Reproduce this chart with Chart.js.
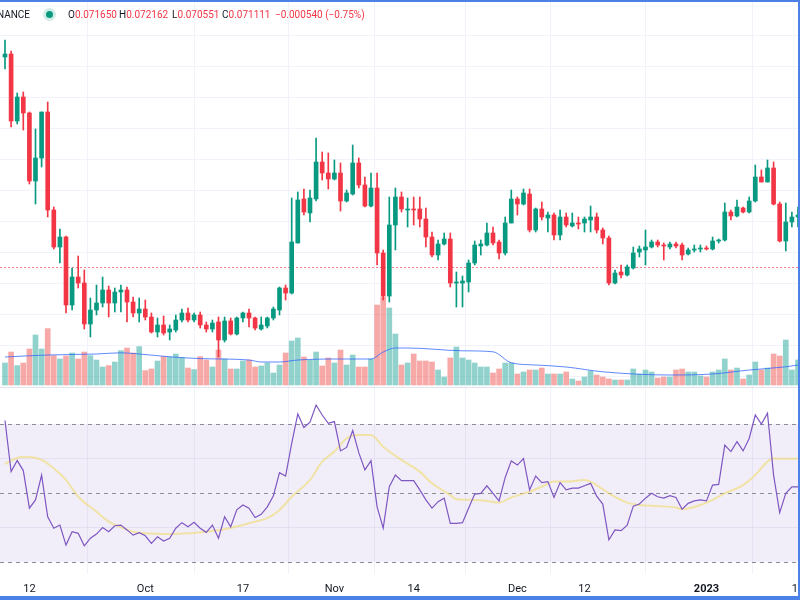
<!DOCTYPE html>
<html>
<head>
<meta charset="utf-8">
<script src="https://cdn.jsdelivr.net/npm/chart.js@4.4.0/dist/chart.umd.min.js"></script>
<style>
  body { margin: 0; background: #fff; }
  #wrap { position: relative; width: 800px; height: 600px; overflow: hidden; font-family: Roboto, "Noto Sans", sans-serif; }
  #hdr { position: absolute; top: 0; left: 0; width: 800px; height: 28px; font-size: 10px; color: #131722; }
  #hdr span { position: absolute; top: 8px; white-space: nowrap; line-height: 14px; }
  #hdr .v { color: #f23645; }
  #dot { position: absolute; left: 46px; top: 11px; width: 7px; height: 7px; border-radius: 50%; background: #089981; box-shadow: 0 0 0 3px rgba(8,153,129,0.18); }
</style>
</head>
<body>
<div id="wrap">
  <canvas id="chart" width="800" height="600"></canvas>
  <div id="hdr"></div>
</div>
<script>
// one candle per day, Sep 8 2022 -> Jan 16 2023 (index 0..130)
const opens = [
  0.08371, 0.08389, 0.07987, 0.08131, 0.08035, 0.07627, 0.07765, 0.08041, 0.07453, 0.07231,
  0.07291, 0.06883, 0.07051, 0.07015, 0.06769, 0.06853, 0.06895, 0.06973, 0.06895, 0.06961,
  0.06973, 0.06901, 0.06835, 0.06859, 0.06811, 0.06721, 0.06763, 0.06721, 0.06733, 0.06793,
  0.06835, 0.06793, 0.06823, 0.06763, 0.06739, 0.06781, 0.06673, 0.06787, 0.06709, 0.06805,
  0.06835, 0.06805, 0.06739, 0.06757, 0.06805, 0.06853, 0.06985, 0.06955, 0.07255, 0.07519,
  0.07435, 0.07519, 0.07741, 0.07675, 0.07639, 0.07675, 0.07507, 0.07549, 0.07735, 0.07603,
  0.07477, 0.07585, 0.07195, 0.06937, 0.07363, 0.07531, 0.07453, 0.07459, 0.07459, 0.07399,
  0.07291, 0.07183, 0.07249, 0.07279, 0.07015, 0.07015, 0.07021, 0.07135, 0.07237, 0.07243,
  0.07315, 0.07261, 0.07195, 0.07375, 0.07519, 0.07489, 0.07549, 0.07333, 0.07459, 0.07405,
  0.07423, 0.07303, 0.07411, 0.07357, 0.07375, 0.07375, 0.07393, 0.07411, 0.07333, 0.07285,
  0.07015, 0.07081, 0.07063, 0.07105, 0.07201, 0.07213, 0.07231, 0.07261, 0.07243, 0.07231,
  0.07249, 0.07243, 0.07189, 0.07213, 0.07219, 0.07225, 0.07219, 0.07267, 0.07273, 0.07441,
  0.07417, 0.07465, 0.07441, 0.07507, 0.07651, 0.07621, 0.07705, 0.07489, 0.07267, 0.07381,
  0.07411
];
const highs = [
  0.08473, 0.08407, 0.08155, 0.08161, 0.08041, 0.07939, 0.08041, 0.08101, 0.07471, 0.07339,
  0.07297, 0.07105, 0.07177, 0.07093, 0.06925, 0.07003, 0.07051, 0.06997, 0.06985, 0.07003,
  0.06991, 0.06931, 0.06925, 0.06913, 0.06835, 0.06805, 0.06817, 0.06763, 0.06823, 0.06859,
  0.06865, 0.06835, 0.06841, 0.06781, 0.06793, 0.06811, 0.06811, 0.06805, 0.06811, 0.06841,
  0.06859, 0.06811, 0.06811, 0.06811, 0.06871, 0.06991, 0.07003, 0.07525, 0.07561, 0.07579,
  0.07573, 0.07885, 0.07801, 0.07795, 0.07753, 0.07735, 0.07573, 0.07843, 0.07765, 0.07651,
  0.07675, 0.07675, 0.07213, 0.07531, 0.07585, 0.07561, 0.07525, 0.07531, 0.07531, 0.07465,
  0.07321, 0.07273, 0.07315, 0.07315, 0.07081, 0.07057, 0.07153, 0.07267, 0.07273, 0.07375,
  0.07351, 0.07273, 0.07411, 0.07573, 0.07531, 0.07579, 0.07579, 0.07465, 0.07501, 0.07441,
  0.07435, 0.07453, 0.07435, 0.07435, 0.07411, 0.07411, 0.07477, 0.07435, 0.07345, 0.07297,
  0.07093, 0.07123, 0.07123, 0.07231, 0.07237, 0.07333, 0.07273, 0.07273, 0.07255, 0.07261,
  0.07261, 0.07255, 0.07225, 0.07243, 0.07243, 0.07237, 0.07291, 0.07279, 0.07495, 0.07453,
  0.07513, 0.07471, 0.07531, 0.07723, 0.07693, 0.07753, 0.07741, 0.07501, 0.07495, 0.07441,
  0.07471
];
const lows = [
  0.08299, 0.07951, 0.07969, 0.07933, 0.07609, 0.07489, 0.07711, 0.07411, 0.07219, 0.07135,
  0.06835, 0.06853, 0.06985, 0.06739, 0.06691, 0.06823, 0.06871, 0.06811, 0.06841, 0.06841,
  0.06781, 0.06811, 0.06781, 0.06793, 0.06715, 0.06691, 0.06703, 0.06673, 0.06721, 0.06781,
  0.06781, 0.06781, 0.06745, 0.06721, 0.06721, 0.06571, 0.06661, 0.06703, 0.06703, 0.06781,
  0.06751, 0.06733, 0.06733, 0.06745, 0.06793, 0.06823, 0.06913, 0.06949, 0.07255, 0.07423,
  0.07381, 0.07507, 0.07633, 0.07579, 0.07633, 0.07447, 0.07501, 0.07543, 0.07585, 0.07471,
  0.07471, 0.07123, 0.06913, 0.06901, 0.07213, 0.07441, 0.07351, 0.07363, 0.07351, 0.07231,
  0.07171, 0.07153, 0.07243, 0.06991, 0.06871, 0.06871, 0.06961, 0.07123, 0.07183, 0.07237,
  0.07243, 0.07159, 0.07183, 0.07375, 0.07423, 0.07483, 0.07321, 0.07321, 0.07393, 0.07321,
  0.07273, 0.07273, 0.07351, 0.07351, 0.07339, 0.07321, 0.07321, 0.07315, 0.07249, 0.07003,
  0.07009, 0.07045, 0.07057, 0.07099, 0.07171, 0.07123, 0.07225, 0.07231, 0.07153, 0.07219,
  0.07225, 0.07153, 0.07183, 0.07201, 0.07201, 0.07213, 0.07213, 0.07255, 0.07267, 0.07393,
  0.07411, 0.07435, 0.07435, 0.07501, 0.07621, 0.07621, 0.07483, 0.07261, 0.07207, 0.07351,
  0.07351
];
const closes = [
  0.08389, 0.07987, 0.08131, 0.08035, 0.07627, 0.07765, 0.08041, 0.07453, 0.07231, 0.07291,
  0.06883, 0.07051, 0.07015, 0.06769, 0.06853, 0.06895, 0.06973, 0.06895, 0.06961, 0.06973,
  0.06901, 0.06835, 0.06859, 0.06811, 0.06721, 0.06763, 0.06715, 0.06739, 0.06793, 0.06835,
  0.06793, 0.06823, 0.06763, 0.06739, 0.06775, 0.06673, 0.06787, 0.06709, 0.06805, 0.06835,
  0.06805, 0.06745, 0.06763, 0.06805, 0.06859, 0.06985, 0.06955, 0.07261, 0.07513, 0.07441,
  0.07525, 0.07741, 0.07675, 0.07639, 0.07675, 0.07507, 0.07555, 0.07735, 0.07603, 0.07477,
  0.07585, 0.07195, 0.06937, 0.07363, 0.07531, 0.07459, 0.07459, 0.07453, 0.07399, 0.07291,
  0.07183, 0.07249, 0.07279, 0.07015, 0.07021, 0.07027, 0.07135, 0.07243, 0.07249, 0.07315,
  0.07255, 0.07195, 0.07375, 0.07519, 0.07489, 0.07555, 0.07333, 0.07459, 0.07411, 0.07423,
  0.07303, 0.07411, 0.07363, 0.07375, 0.07369, 0.07399, 0.07411, 0.07333, 0.07285, 0.07015,
  0.07075, 0.07063, 0.07111, 0.07195, 0.07219, 0.07231, 0.07261, 0.07243, 0.07237, 0.07249,
  0.07237, 0.07183, 0.07213, 0.07219, 0.07225, 0.07219, 0.07267, 0.07273, 0.07441, 0.07417,
  0.07471, 0.07441, 0.07507, 0.07651, 0.07621, 0.07705, 0.07489, 0.07267, 0.07381, 0.07411,
  0.07423
];
// volume in thousands
const volumes = [
  110, 165, 97, 110, 180, 250, 180, 282, 147, 130,
  145, 160, 130, 165, 147, 125, 90, 97, 115, 172,
  185, 160, 192, 72, 80, 120, 142, 140, 155, 137,
  85, 77, 142, 125, 90, 175, 130, 80, 80, 120,
  125, 90, 95, 110, 60, 100, 160, 220, 235, 140,
  125, 165, 95, 135, 110, 175, 100, 150, 90, 90,
  130, 400, 440, 385, 255, 100, 110, 155, 120, 120,
  115, 75, 40, 135, 190, 135, 125, 110, 90, 90,
  60, 80, 110, 110, 55, 65, 75, 75, 85, 55,
  55, 55, 65, 30, 20, 40, 70, 50, 40, 30,
  25, 25, 25, 80, 55, 75, 65, 35, 40, 40,
  75, 80, 65, 65, 45, 40, 65, 75, 130, 75,
  85, 30, 50, 115, 75, 85, 155, 145, 225, 75,
  125
];
const volMaDays = [0, 7, 15, 19, 22, 27, 32, 40, 42, 45, 48, 55, 60, 62, 64, 66, 75, 80, 83, 87, 92, 98, 109, 116, 122, 128, 130];
const volMa = [140, 150, 155, 161, 155, 141, 132, 125, 115, 115, 125, 130, 130, 165, 185, 185, 171, 166, 111, 100, 90, 66, 50, 55, 75, 91, 100];

const rsiValues = [
  71.0, 56.2, 59.4, 56.5, 45.6, 48.0, 55.2, 43.1, 39.8, 40.7,
  34.9, 38.8, 38.3, 34.7, 36.9, 38.1, 40.0, 38.8, 40.5, 40.7,
  39.3, 37.8, 38.5, 37.6, 35.4, 37.3, 36.1, 36.9, 39.8, 41.4,
  40.2, 41.5, 39.8, 38.6, 40.7, 36.9, 43.1, 40.2, 45.1, 46.5,
  45.6, 42.9, 43.8, 46.0, 49.2, 55.9, 54.9, 64.4, 72.9, 69.0,
  70.5, 75.5, 72.6, 70.2, 70.7, 62.2, 63.2, 68.1, 61.7, 56.7,
  59.4, 46.0, 39.8, 51.8, 55.2, 53.6, 53.6, 53.6, 50.9, 48.0,
  45.6, 47.5, 48.5, 41.2, 41.2, 41.4, 45.6, 49.7, 49.9, 52.1,
  49.9, 47.7, 54.5, 59.3, 58.1, 60.0, 50.9, 54.9, 53.0, 53.3,
  48.7, 53.0, 50.9, 51.4, 51.4, 52.1, 52.8, 49.1, 46.8, 36.4,
  39.3, 39.1, 40.7, 46.2, 46.8, 48.5, 49.9, 48.9, 48.5, 49.2,
  48.7, 45.3, 47.0, 47.7, 48.0, 47.7, 52.3, 52.5, 63.9, 62.0,
  64.9, 62.2, 65.8, 72.6, 70.0, 73.1, 55.2, 44.3, 49.9, 51.8,
  51.8
];
const rsiMaDays = [0, 1, 3, 6, 8, 10, 12, 15, 17, 19, 21, 23, 27, 30, 33, 36, 39, 41, 43, 45, 47, 50, 52, 54, 56, 58, 60, 62, 65,
  68, 70, 73, 74, 77, 79, 81, 83, 86, 88, 90, 92, 95, 97, 99, 102, 104, 107, 110, 111, 114, 116, 118, 121, 123, 125, 126, 128, 130];
const rsiMa = [58.4, 59.4, 60.5, 59.6, 57.1, 53.8, 48.9, 44.6, 41.7, 40.1, 38.8, 38.3, 38.1, 38.3, 38.8, 39.5, 40.7, 41.7, 42.7, 45.1, 48.9, 53.8, 59.1, 62.0, 65.8, 66.8, 66.8, 63.4, 59.6,
  56.2, 52.8, 49.4, 48.2, 48.0, 47.7, 47.2, 48.7, 50.4, 51.8, 53.3, 53.3, 53.8, 52.3, 49.9, 47.2, 46.5, 46.2, 45.8, 45.3, 46.5, 48.0, 49.9, 52.3, 55.2, 59.1, 60.0, 59.9, 60.0];

const tickDays = [4, 23, 39, 54, 67, 84, 95, 115, 130];
const tickLabels = ['12', 'Oct', '17', 'Nov', '14', 'Dec', '12', '2023', '16'];

const legendKeys = ['O', 'H', 'L', 'C'];
const legendValues = ['0.071650', '0.072162', '0.070551', '0.071111'];
const legendChange = '\u22120.000540 (\u22120.75%)';
const lastClose = 0.071111;

/*********************************************/

const UP = '#089981', DOWN = '#f23645';
const UP_VOL = 'rgba(38,166,154,0.5)', DOWN_VOL = 'rgba(239,83,80,0.5)';
const FONT = 'Roboto, "Noto Sans", sans-serif';

const days = opens.map((_, i) => i);
const isUp = days.map(i => closes[i] >= opens[i]);

function buildHeader() {
  const hdr = document.getElementById('hdr');
  let html = '<span style="right:770px">ETHBTC \u00b7 1D \u00b7 BINANCE</span><div id="dot"></div>';
  const lefts = [68, 119, 172, 222];
  for (let i = 0; i < legendKeys.length; i++) {
    html += `<span style="left:${lefts[i]}px">${legendKeys[i]}<span class="v" style="position:static">${legendValues[i]}</span></span>`;
  }
  html += `<span class="v" style="left:275px">${legendChange}</span>`;
  hdr.innerHTML = html;
}

const paneDecor = {
  id: 'paneDecor',
  beforeDatasetsDraw(chart) {
    const { ctx, chartArea: a, scales } = chart;
    const r = scales.yRsi;
    ctx.save();
    ctx.lineWidth = 1;

    // rsi pane grid
    ctx.strokeStyle = '#eef0f6';
    [40, 60].forEach(v => {
      const y = Math.round(r.getPixelForValue(v)) + 0.5;
      ctx.beginPath(); ctx.moveTo(a.left, y); ctx.lineTo(a.right, y); ctx.stroke();
    });

    // rsi band
    const y70 = r.getPixelForValue(70), y30 = r.getPixelForValue(30);
    ctx.fillStyle = 'rgba(126,87,194,0.1)';
    ctx.fillRect(a.left, y70, a.right - a.left, y30 - y70);

    ctx.strokeStyle = '#8a8d96';
    ctx.setLineDash([4, 4]);
    [70, 50, 30].forEach(v => {
      const y = Math.round(r.getPixelForValue(v)) + 0.5;
      ctx.beginPath(); ctx.moveTo(a.left, y); ctx.lineTo(a.right, y); ctx.stroke();
    });

    // pane separator
    ctx.setLineDash([]);
    ctx.strokeStyle = '#e0e3eb';
    const ys = Math.round(r.getPixelForValue(80.6)) + 0.5;
    ctx.beginPath(); ctx.moveTo(a.left, ys); ctx.lineTo(a.right, ys); ctx.stroke();

    // last price line
    ctx.strokeStyle = '#f7808b';
    ctx.setLineDash([2, 2]);
    const yp = Math.round(scales.yPrice.getPixelForValue(lastClose)) + 0.5;
    ctx.beginPath(); ctx.moveTo(a.left, yp); ctx.lineTo(a.right, yp); ctx.stroke();
    ctx.restore();
  },
  afterDraw(chart) {
    // screenshot frame
    const { ctx, width, height } = chart;
    ctx.save();
    ctx.fillStyle = '#4c82e8';
    ctx.fillRect(0, 0, width, 2);
    ctx.fillRect(width - 2, 0, 2, height);
    ctx.fillRect(0, height - 4, width, 4);
    ctx.restore();
  }
};

function noPadding(s) {
  s.paddingLeft = 0; s.paddingRight = 0; s.paddingTop = 0; s.paddingBottom = 0;
}

function drawChart() {
  const data = {
    datasets: [
      {
        label: 'bodies',
        data: days.map(i => ({ x: i, y: [opens[i], closes[i]] })),
        backgroundColor: days.map(i => isUp[i] ? UP : DOWN),
        barThickness: 4,
        minBarLength: 1,
        grouped: false,
        yAxisID: 'yPrice',
        order: 0
      },
      {
        label: 'wicks',
        data: days.map(i => ({ x: i, y: [lows[i], highs[i]] })),
        backgroundColor: days.map(i => isUp[i] ? UP : DOWN),
        barThickness: 1,
        grouped: false,
        yAxisID: 'yPrice',
        order: 1
      },
      {
        type: 'line',
        label: 'RSI',
        data: days.map(i => ({ x: i, y: rsiValues[i] })),
        borderColor: '#7e57c2',
        borderWidth: 1.2,
        pointRadius: 0,
        tension: 0,
        yAxisID: 'yRsi',
        order: 2
      },
      {
        type: 'line',
        label: 'RSI MA',
        data: rsiMaDays.map((d, k) => ({ x: d, y: rsiMa[k] })),
        borderColor: 'rgba(240,218,110,0.6)',
        borderWidth: 2,
        pointRadius: 0,
        cubicInterpolationMode: 'monotone',
        yAxisID: 'yRsi',
        order: 3
      },
      {
        type: 'line',
        label: 'Volume MA',
        data: volMaDays.map((d, k) => ({ x: d, y: volMa[k] })),
        borderColor: 'rgba(41,98,255,0.75)',
        borderWidth: 1,
        pointRadius: 0,
        cubicInterpolationMode: 'monotone',
        yAxisID: 'yVol',
        order: 4
      },
      {
        label: 'Volume',
        data: days.map(i => ({ x: i, y: volumes[i] })),
        backgroundColor: days.map(i => isUp[i] ? UP_VOL : DOWN_VOL),
        barThickness: 5,
        grouped: false,
        yAxisID: 'yVol',
        order: 5
      }
    ]
  };

  const options = {
    responsive: false,
    animation: false,
    events: [],
    layout: { padding: 0 },
    plugins: { legend: { display: false }, tooltip: { enabled: false } },
    scales: {
      x: {
        type: 'linear',
        min: -0.82,
        max: 130.33,
        offset: false,
        grid: { color: '#f0f3fa', drawTicks: false },
        border: { display: false },
        ticks: {
          padding: 9,
          color: '#131722',
          autoSkip: false,
          maxRotation: 0,
          font: ctx => ({ family: FONT, size: 11, weight: tickLabels[ctx.index] === '2023' ? 'bold' : 'normal' }),
          callback: (v, idx) => tickLabels[idx]
        },
        afterBuildTicks: s => { s.ticks = tickDays.map(v => ({ value: v })); },
        afterFit: s => { s.height = 26; noPadding(s); }
      },
      yPrice: {
        type: 'linear',
        axis: 'y',
        position: 'left',
        min: 0.05269,
        max: 0.08713,
        grid: { color: '#f0f3fa', drawTicks: false },
        border: { display: false },
        ticks: { display: false },
        afterBuildTicks: s => {
          const t = [];
          for (let k = 0; k < 12; k++) t.push({ value: 0.08503 - k * 0.00186 });
          s.ticks = t;
        },
        afterFit: s => { s.width = 0; noPadding(s); }
      },
      yVol: { type: 'linear', axis: 'y', position: 'left', display: false, min: -945, max: 1925 },
      yRsi: { type: 'linear', axis: 'y', position: 'left', display: false, min: 26.52, max: 192.9 }
    }
  };

  new Chart(document.getElementById('chart'), {
    type: 'bar',
    data,
    options,
    plugins: [paneDecor]
  });
}

buildHeader();
drawChart();
</script>
</body>
</html>
